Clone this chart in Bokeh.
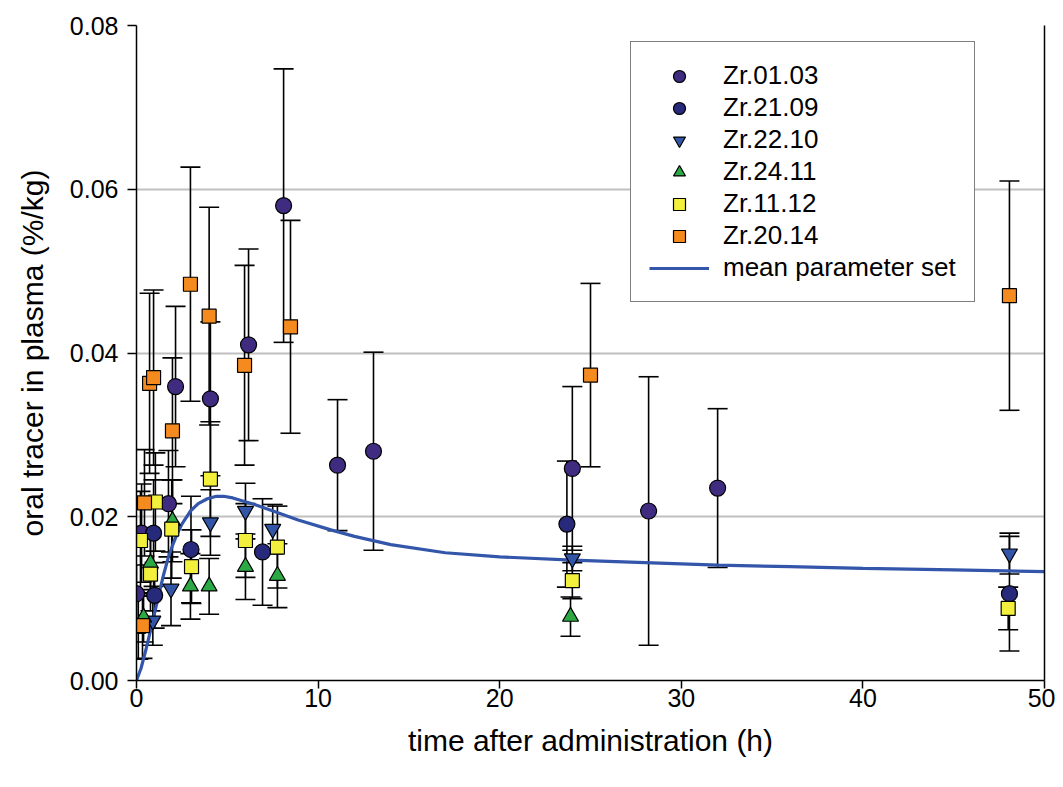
from bokeh.plotting import figure
from bokeh.models import (ColumnDataSource, Whisker, TeeHead, Legend, LegendItem,
                          LinearAxis, FixedTicker, Range1d)
from bokeh.embed import file_html
from bokeh.resources import INLINE

# ---------------- data ----------------
series_names = ["Zr.01.03", "Zr.21.09", "Zr.22.10", "Zr.24.11", "Zr.11.12", "Zr.20.14"]

t_0103 = [0.0, 0.28, 1.76, 2.15, 4.07, 6.17, 8.1, 11.07, 13.05, 24.0, 28.2, 32.0]
v_0103 = [0.0106, 0.0180, 0.0216, 0.0359, 0.0344, 0.0410, 0.0580, 0.0263, 0.0280, 0.0259, 0.0207, 0.0235]
e_0103 = [0.0035, 0.0060, 0.0065, 0.0098, 0.0094, 0.0117, 0.0167, 0.0080, 0.0121, 0.0100, 0.0164, 0.0097]

t_2109 = [0.94, 1.0, 3.0, 6.94, 23.7, 48.07]
v_2109 = [0.0180, 0.0104, 0.0160, 0.0157, 0.0191, 0.0106]
e_2109 = [0.0065, 0.0040, 0.0065, 0.0065, 0.0077, 0.0070]

t_2210 = [0.9, 1.9, 4.07, 6.0, 7.5, 24.0, 48.07]
v_2210 = [0.0073, 0.0112, 0.0193, 0.0207, 0.0185, 0.0149, 0.0155]
e_2210 = [0.0030, 0.0045, 0.0040, 0.0034, 0.0030, 0.0015, 0.0025]

t_2411 = [0.39, 0.77, 1.98, 2.97, 4.0, 6.0, 7.76, 23.9]
v_2411 = [0.0077, 0.0143, 0.0195, 0.0115, 0.0115, 0.0139, 0.0128, 0.0078]
e_2411 = [0.0030, 0.0040, 0.0050, 0.0040, 0.0034, 0.0040, 0.0039, 0.0024]

t_1112 = [0.22, 0.77, 1.04, 1.94, 3.03, 4.07, 6.0, 7.76, 24.0, 48.0]
v_1112 = [0.0171, 0.0130, 0.0218, 0.0185, 0.0139, 0.0246, 0.0171, 0.0163, 0.0122, 0.0088]
e_1112 = [0.0060, 0.0045, 0.0060, 0.0060, 0.0045, 0.0070, 0.0045, 0.0050, 0.0022, 0.0026]

t_2014 = [0.1, 0.33, 0.44, 0.72, 0.94, 1.98, 2.97, 4.0, 5.95, 8.48, 25.0, 48.07]
v_2014 = [0.0066, 0.0067, 0.0217, 0.0363, 0.0370, 0.0305, 0.0484, 0.0445, 0.0385, 0.0432, 0.0373, 0.0470]
e_2014 = [0.0040, 0.0040, 0.0065, 0.0110, 0.0107, 0.0089, 0.0143, 0.0133, 0.0122, 0.0130, 0.0112, 0.0140]

curve_name = "mean parameter set"
curve_t = [0.0, 0.25, 0.5, 0.77, 1.0, 1.25, 1.5, 1.75, 2.0, 2.24, 2.5, 2.97, 3.4, 3.9, 4.4, 4.8,
           5.3, 5.9, 6.5, 7.4, 8.9, 10.7, 12.0, 14.0, 17.0, 20.0, 24.0, 28.0, 32.0, 36.0, 40.0, 45.0, 50.0]
curve_v = [0.0, 0.0015, 0.0036, 0.0061, 0.0083, 0.0107, 0.0130, 0.0150, 0.0166, 0.0179, 0.0191, 0.0207,
           0.0216, 0.0222, 0.0225, 0.0225, 0.0223, 0.0219, 0.0215, 0.0208, 0.0196, 0.0184, 0.0176,
           0.0166, 0.0156, 0.0151, 0.0147, 0.0144, 0.0141, 0.0139, 0.0137, 0.0135, 0.0133]

x_ticks = [0, 10, 20, 30, 40, 50]
x_tick_labels = ["0", "10", "20", "30", "40", "50"]
y_ticks = [0.0, 0.02, 0.04, 0.06, 0.08]
y_tick_labels = ["0.00", "0.02", "0.04", "0.06", "0.08"]

x_title = "time after administration (h)"
y_title = "oral tracer in plasma (%/kg)"

# ---------------- figure ----------------
FONT = "Liberation Sans"

p = figure(frame_width=908, frame_height=655,
           x_range=Range1d(0, 50), y_range=Range1d(0, 0.08),
           output_backend="svg", toolbar_location=None,
           min_border_left=136, min_border_right=11, min_border_top=25, min_border_bottom=99,
           background_fill_color="white", border_fill_color="white")
p.outline_line_color = None

p.xgrid.grid_line_color = None
p.ygrid.grid_line_color = "#c0c0c0"
p.ygrid.grid_line_width = 2
p.ygrid.ticker = FixedTicker(ticks=y_ticks)

for ax, ticks, labels in ((p.xaxis[0], x_ticks, x_tick_labels), (p.yaxis[0], y_ticks, y_tick_labels)):
    ax.ticker = FixedTicker(ticks=ticks)
    ax.major_label_overrides = {tk: lb for tk, lb in zip(ticks, labels)}
    ax.minor_tick_line_color = None
    ax.major_tick_in = 0
    ax.major_tick_out = 9
    ax.major_tick_line_width = 1.5
    ax.axis_line_width = 1.5
    ax.axis_line_color = "black"
    ax.major_tick_line_color = "black"
    ax.major_label_text_font = FONT
    ax.major_label_text_font_size = "25px"
    ax.major_label_text_color = "black"
    ax.axis_label_text_font = FONT
    ax.axis_label_text_font_size = "30px"
    ax.axis_label_text_font_style = "normal"
    ax.axis_label_text_color = "black"

p.xaxis[0].axis_label = x_title
p.yaxis[0].axis_label = y_title
p.xaxis[0].major_tick_out = 8
p.xaxis[0].major_label_standoff = 0
p.xaxis[0].axis_label_standoff = 14
p.yaxis[0].major_label_standoff = 9
p.yaxis[0].axis_label_standoff = 18

right = LinearAxis(ticker=FixedTicker(ticks=[]), major_label_text_font_size="0px",
                   major_tick_line_color=None, minor_tick_line_color=None,
                   axis_line_width=1.5, axis_line_color="black", major_label_standoff=0)
p.add_layout(right, "right")

styles = [
    (t_0103, v_0103, e_0103, "circle", "#3f2b80", 16),
    (t_2109, v_2109, e_2109, "circle", "#27297a", 16),
    (t_2210, v_2210, e_2210, "inverted_triangle", "#3355a8", 16),
    (t_2411, v_2411, e_2411, "triangle", "#2ca845", 16),
    (t_1112, v_1112, e_1112, "square", "#f2f03c", 14),
    (t_2014, v_2014, e_2014, "square", "#f58a1f", 14),
]

# curve first (below markers)
curve_r = p.line(curve_t, curve_v, line_color="#3355aa", line_width=3.2)

items = []
for name, (t, v, e, marker, color, size) in zip(series_names, styles):
    src = ColumnDataSource(dict(t=t, v=v,
                                up=[a + b for a, b in zip(v, e)],
                                lo=[a - b for a, b in zip(v, e)]))
    w = Whisker(base="t", upper="up", lower="lo", source=src, dimension="height",
                line_color="black", line_width=1.6,
                upper_head=TeeHead(size=20, line_color="black", line_width=1.6),
                lower_head=TeeHead(size=20, line_color="black", line_width=1.6))
    p.add_layout(w)
    r = p.scatter("t", "v", source=src, marker=marker, size=size,
                  fill_color=color, line_color="black", line_width=1.2)
    items.append(LegendItem(label=name, renderers=[r]))
items.append(LegendItem(label=curve_name, renderers=[curve_r]))

legend = Legend(items=items, location=(494, 378),
                label_text_font=FONT, label_text_font_size="26px", label_text_color="black",
                glyph_width=60, glyph_height=30, label_height=31, spacing=1,
                label_standoff=14, padding=18, margin=0,
                border_line_color="black", border_line_width=1.5,
                background_fill_color="white", background_fill_alpha=1.0)
p.add_layout(legend)

open("out.html", "w").write(file_html(p, INLINE))
